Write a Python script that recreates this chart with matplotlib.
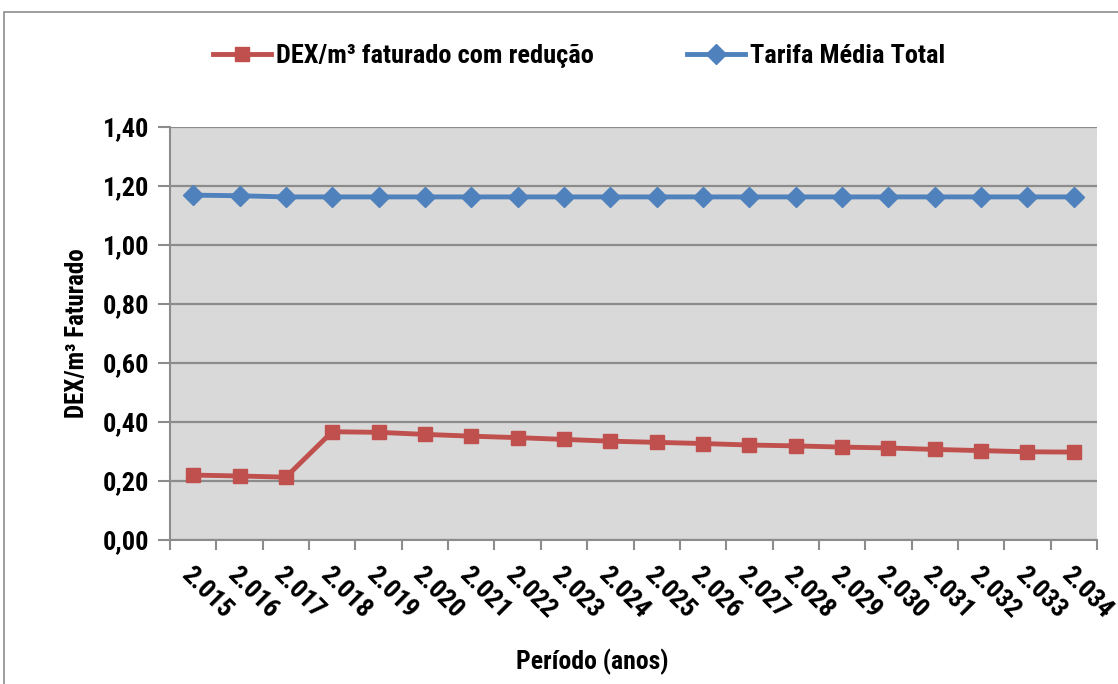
import matplotlib.pyplot as plt
from matplotlib.patches import Rectangle

plt.rcParams['font.family'] = ['Roboto Condensed', 'DejaVu Sans']
plt.rcParams['font.weight'] = 'bold'
plt.rcParams['axes.labelweight'] = 'bold'

anos = ['2.015', '2.016', '2.017', '2.018', '2.019', '2.020', '2.021', '2.022', '2.023', '2.024',
        '2.025', '2.026', '2.027', '2.028', '2.029', '2.030', '2.031', '2.032', '2.033', '2.034']
dex_reducao = [0.220, 0.217, 0.213, 0.367, 0.365, 0.358, 0.352, 0.347, 0.341, 0.335,
               0.331, 0.327, 0.322, 0.319, 0.315, 0.312, 0.307, 0.303, 0.299, 0.298]
tarifa_media = [1.169, 1.167, 1.163, 1.163, 1.163, 1.163, 1.163, 1.163, 1.163, 1.163,
                1.163, 1.163, 1.163, 1.163, 1.163, 1.163, 1.163, 1.163, 1.163, 1.163]
y_ticks = [0.0, 0.2, 0.4, 0.6, 0.8, 1.0, 1.2, 1.4]

fig = plt.figure(figsize=(11.18, 6.84), dpi=100)
fig.patches.append(Rectangle((4 / 1118, -0.05), 1.1, 1 - 12 / 684 + 0.05, transform=fig.transFigure,
                             fill=False, edgecolor='#8c8c8c', linewidth=1.2))

ax = fig.add_axes([170 / 1118, 144 / 684, 927 / 1118, 413 / 684])
ax.set_facecolor('#d9d9d9')

x = list(range(len(anos)))
l1, = ax.plot(x, dex_reducao, color='#c0504d', linewidth=3.5, marker='s', markersize=10,
              label='DEX/m³ faturado com redução')
l2, = ax.plot(x, tarifa_media, color='#4f81bd', linewidth=3.5, marker='D', markersize=10.5,
              label='Tarifa Média Total')

ax.set_xlim(-0.5, len(anos) - 0.5)
ax.set_ylim(0, 1.4)
ax.set_yticks(y_ticks)
ax.set_yticklabels([f'{v:.2f}'.replace('.', ',') for v in y_ticks], fontsize=19)
ax.yaxis.grid(True, color='#8c8c8c', linewidth=1.6)
ax.set_axisbelow(True)

ax.set_xticks(x)
ax.set_xticklabels(anos, rotation=-45, ha='left', va='top', rotation_mode='anchor', fontsize=19)
ax.set_xticks([i - 0.5 for i in range(len(anos) + 1)], minor=True)
ax.tick_params(axis='x', which='major', length=0, pad=16)
ax.tick_params(axis='x', which='minor', length=7, color='#8c8c8c', width=1.5)
ax.tick_params(axis='y', length=9, color='#8c8c8c', width=1.5, pad=6)

for s in ['top', 'right']:
    ax.spines[s].set_visible(False)
for s in ['left', 'bottom']:
    ax.spines[s].set_color('#8c8c8c')
    ax.spines[s].set_linewidth(1.5)

ax.set_ylabel('DEX/m³ Faturado', fontsize=18, labelpad=10)
fig.text(592 / 1118, 1 - 662 / 684, 'Período (anos)', ha='center', va='center', fontsize=18.5, fontweight='bold')

fig.legend(handles=[l1, l2], loc='center', bbox_to_anchor=(579 / 1118, 1 - 56 / 684), ncol=2,
           frameon=False, handlelength=2.2, handletextpad=0.2, columnspacing=3.5,
           prop={'family': ['Roboto Condensed', 'DejaVu Sans'], 'weight': 'bold', 'size': 19})

fig.savefig('out.png', dpi=100)
